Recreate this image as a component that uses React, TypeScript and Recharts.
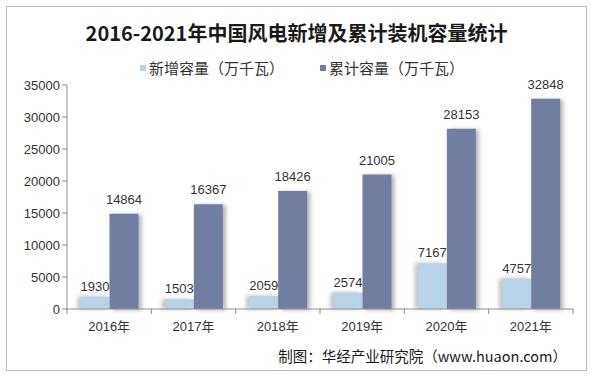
import { Bar, BarChart, LabelList, XAxis, YAxis } from 'recharts'

const years = ['2016年', '2017年', '2018年', '2019年', '2020年', '2021年']
const newCapacity = [1930, 1503, 2059, 2574, 7167, 4757]
const totalCapacity = [14864, 16367, 18426, 21005, 28153, 32848]
const yTicks = [0, 5000, 10000, 15000, 20000, 25000, 30000, 35000]

const NEW_COLOR = '#b8d3e6'
const TOTAL_COLOR = '#727da2'
const AXIS_COLOR = '#8c8c8c'
const TEXT_COLOR = '#333333'
const FONT = 'Arial, "Liberation Sans", "Noto Sans CJK SC", sans-serif'

const data = years.map((year, i) => ({
  year,
  added: newCapacity[i],
  total: totalCapacity[i],
}))

const PLOT_LEFT = 67
const PLOT_RIGHT = 573
const BAND = (PLOT_RIGHT - PLOT_LEFT) / years.length

interface TickProps {
  x?: number
  y?: number
  index?: number
  payload?: { value: string }
}

function YearTick({ x = 0, y = 0, index = 0, payload }: TickProps) {
  const last = index === years.length - 1
  return (
    <g>
      <line x1={x - BAND / 2} x2={x - BAND / 2} y1={y - 8} y2={y - 3} stroke={AXIS_COLOR} />
      {last && <line x1={x + BAND / 2} x2={x + BAND / 2} y1={y - 8} y2={y - 3} stroke={AXIS_COLOR} />}
      <text x={x} y={y + 14} textAnchor="middle" fill={TEXT_COLOR} fontSize={13} fontFamily={FONT}>
        {payload?.value}
      </text>
    </g>
  )
}

function LegendItem({ color, label }: { color: string; label: string }) {
  return (
    <span style={{ display: 'inline-flex', alignItems: 'center' }}>
      <span style={{ width: 6, height: 6, background: color, marginRight: 3 }} />
      {label}
    </span>
  )
}

export default function App() {
  return (
    <div
      style={{
        position: 'absolute',
        left: 0,
        top: 0,
        width: 593,
        height: 376,
        background: '#ffffff',
        fontFamily: FONT,
        overflow: 'hidden',
      }}
    >
      <div
        style={{
          position: 'absolute',
          left: 6,
          top: 6,
          width: 579,
          height: 363,
          border: '1px solid #bdbdbd',
        }}
      />
      <div
        style={{
          position: 'absolute',
          left: 0,
          top: 19,
          width: 593,
          textAlign: 'center',
          fontSize: 20,
          fontWeight: 'bold',
          color: '#1a1a1a',
          fontFamily: '"Noto Sans CJK SC", sans-serif',
          lineHeight: '28px',
        }}
      >
        2016-2021年中国风电新增及累计装机容量统计
      </div>
      <div
        style={{
          position: 'absolute',
          left: 140,
          top: 59,
          display: 'flex',
          gap: 36,
          fontSize: 15,
          color: TEXT_COLOR,
          fontFamily: '"Noto Sans CJK SC", sans-serif',
          lineHeight: '18px',
        }}
      >
        <LegendItem color={NEW_COLOR} label="新增容量（万千瓦）" />
        <LegendItem color={TOTAL_COLOR} label="累计容量（万千瓦）" />
      </div>
      <div style={{ position: 'absolute', left: 0, top: 0 }}>
        <BarChart
          width={593}
          height={376}
          data={data}
          margin={{ top: 85, right: 20, bottom: 37, left: 0 }}
          barCategoryGap="16%"
          barGap={0}
        >
          <XAxis
            dataKey="year"
            axisLine={{ stroke: AXIS_COLOR }}
            tickLine={false}
            tick={<YearTick />}
            height={30}
            interval={0}
          />
          <YAxis
            domain={[0, 35000]}
            ticks={yTicks}
            width={67}
            axisLine={{ stroke: AXIS_COLOR }}
            tickLine={{ stroke: AXIS_COLOR }}
            tickSize={5}
            tick={{ fill: TEXT_COLOR, fontSize: 13, fontFamily: FONT }}
            interval={0}
          />
          <Bar
            dataKey="added"
            fill={NEW_COLOR}
            isAnimationActive={false}
            style={{ filter: 'drop-shadow(-3px 0px 2px rgba(0,0,0,0.25))' }}
          >
            <LabelList dataKey="added" position="top" offset={6} fill={TEXT_COLOR} fontSize={13} fontFamily={FONT} />
          </Bar>
          <Bar
            dataKey="total"
            fill={TOTAL_COLOR}
            isAnimationActive={false}
            style={{ filter: 'drop-shadow(3px 1px 2px rgba(0,0,0,0.3))' }}
          >
            <LabelList dataKey="total" position="top" offset={10} fill={TEXT_COLOR} fontSize={13} fontFamily={FONT} />
          </Bar>
        </BarChart>
      </div>
      <div
        style={{
          position: 'absolute',
          right: 26,
          top: 346,
          fontSize: 14.5,
          color: '#1a1a1a',
          fontFamily: '"Noto Sans CJK SC", sans-serif',
          lineHeight: '20px',
        }}
      >
        制图：华经产业研究院（www.huaon.com）
      </div>
    </div>
  )
}
